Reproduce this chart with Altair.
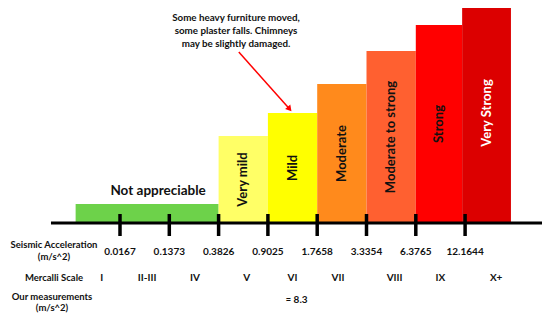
import altair as alt
import pandas as pd

# ---- data ----
intensity = ["Not appreciable", "Very mild", "Mild", "Moderate",
             "Moderate to strong", "Strong", "Very Strong"]
bar_start = [0.1, 3, 4, 5, 6, 7, 7.94]
bar_end = [3, 4, 5, 6, 7, 7.94, 8.93]
bar_height = [19, 87, 110, 139, 172, 198, 220]
bar_colors = ["#6dd24a", "#ffff66", "#ffff00", "#ff8a1c",
              "#ff6030", "#ff0000", "#dc0000"]
label_colors = ["#111111", "#111111", "#111111", "#111111",
                "#111111", "#111111", "#ffffff"]

tick_index = [1, 2, 3, 4, 5, 6, 7, 8]
accel_labels = ["0.0167", "0.1373", "0.3826", "0.9025", "1.7658",
                "3.3354", "6.3765", "12.1644"]
mercalli = ["I", "II-III", "IV", "V", "VI", "VII", "VIII", "IX", "X+"]
mercalli_index = [0.63, 1.55, 2.52, 3.57, 4.5, 5.42, 6.57, 7.5, 8.63]
measurement = ["≈ 8.3"]
measurement_index = [4.58]
note_lines = ["Some heavy furniture moved,",
              "some plaster falls. Chimneys",
              "may be slightly damaged."]

FONT = "Lato"
W, H = 534, 305
STEP = 49.3
xs = alt.Scale(domain=[1 - 112 / STEP, 1 - 112 / STEP + W / STEP], nice=False, zero=False)
ys = alt.Scale(domain=[-(H - 215), 215], nice=False, zero=False)

bars = pd.DataFrame({
    "name": intensity, "start": bar_start, "end": bar_end,
    "height": bar_height, "color": bar_colors, "tcolor": label_colors,
})
bars["base"] = 0
bars["mid"] = (bars["start"] + bars["end"]) / 2
bars["half"] = bars["height"] / 2

base = alt.Chart(bars)

rects = base.mark_rect().encode(
    x=alt.X("start:Q", scale=xs, axis=None),
    x2="end:Q",
    y=alt.Y("height:Q", scale=ys, axis=None),
    y2="base:Q",
    color=alt.Color("color:N", scale=None),
)

vert_labels = base.transform_filter(alt.datum.name != "Not appreciable").mark_text(
    angle=270, font=FONT, fontWeight="bold", fontSize=13, baseline="middle", align="center"
).encode(
    x=alt.X("mid:Q", scale=xs),
    y=alt.Y("half:Q", scale=ys),
    text="name:N",
    color=alt.Color("tcolor:N", scale=None),
)

flat_label = base.transform_filter(alt.datum.name == "Not appreciable").mark_text(
    font=FONT, fontWeight="bold", fontSize=13.5, baseline="middle", align="center",
    dx=11, dy=-13, color="#111111"
).encode(
    x=alt.X("mid:Q", scale=xs),
    y=alt.Y("height:Q", scale=ys),
    text="name:N",
)

axis_df = pd.DataFrame({"a": [-0.40], "b": [9.62], "y": [0]})
axis_line = alt.Chart(axis_df).mark_rule(color="#000000", strokeWidth=3).encode(
    x=alt.X("a:Q", scale=xs), x2="b:Q", y=alt.Y("y:Q", scale=ys)
)

ticks_df = pd.DataFrame({"i": tick_index, "label": accel_labels})
ticks_df["top"] = 9
ticks_df["bot"] = -13
tick_marks = alt.Chart(ticks_df).mark_rule(color="#000000", strokeWidth=3.5).encode(
    x=alt.X("i:Q", scale=xs), y=alt.Y("top:Q", scale=ys), y2="bot:Q"
)
tick_text = alt.Chart(ticks_df).mark_text(
    font=FONT, fontWeight="bold", fontSize=10, color="#111111", baseline="middle"
).encode(x=alt.X("i:Q", scale=xs), y=alt.value(244), text="label:N")

merc_df = pd.DataFrame({"i": mercalli_index, "label": mercalli})
merc_text = alt.Chart(merc_df).mark_text(
    font=FONT, fontWeight="bold", fontSize=10, color="#111111", baseline="middle"
).encode(x=alt.X("i:Q", scale=xs), y=alt.value(270), text="label:N")

meas_df = pd.DataFrame({"i": measurement_index, "label": measurement})
meas_text = alt.Chart(meas_df).mark_text(
    font=FONT, fontWeight="bold", fontSize=10, color="#111111", baseline="middle"
).encode(x=alt.X("i:Q", scale=xs), y=alt.value(292), text="label:N")


def fixed_text(txt, x, y, size=9.5):
    return alt.Chart(pd.DataFrame({"t": [txt]})).mark_text(
        font=FONT, fontWeight="bold", fontSize=size, color="#111111",
        baseline="middle", align="center"
    ).encode(x=alt.value(x), y=alt.value(y), text="t:N")


row_labels = [
    fixed_text("Seismic Acceleration", 46, 237),
    fixed_text("(m/s^2)", 46, 249),
    fixed_text("Mercalli Scale", 46, 270),
    fixed_text("Our measurements", 44, 289),
    fixed_text("(m/s^2)", 44, 300),
]

notes = [fixed_text(t, 228, 9.5 + 13 * k, size=9.8) for k, t in enumerate(note_lines)]

arrow_df = pd.DataFrame({"x1": [3.41], "y1": [171], "x2": [4.44], "y2": [114]})
arrow_line = alt.Chart(arrow_df).mark_rule(color="#ff0000", strokeWidth=1.5).encode(
    x=alt.X("x1:Q", scale=xs), y=alt.Y("y1:Q", scale=ys), x2="x2:Q", y2="y2:Q"
)
arrow_head = alt.Chart(arrow_df).mark_point(
    shape="triangle-up", filled=True, color="#ff0000", size=45, angle=140, opacity=1
).encode(x=alt.X("x2:Q", scale=xs), y=alt.Y("y2:Q", scale=ys))

chart = alt.layer(
    rects, axis_line, tick_marks, vert_labels, flat_label, tick_text, merc_text,
    meas_text, *row_labels, *notes, arrow_line, arrow_head
).properties(
    width=W, height=H, padding=0, autosize=alt.AutoSizeParams(type="none"),
    background="#ffffff"
).configure_view(stroke=None)

chart.save("out.html", embed_options={"renderer": "svg", "actions": False})
